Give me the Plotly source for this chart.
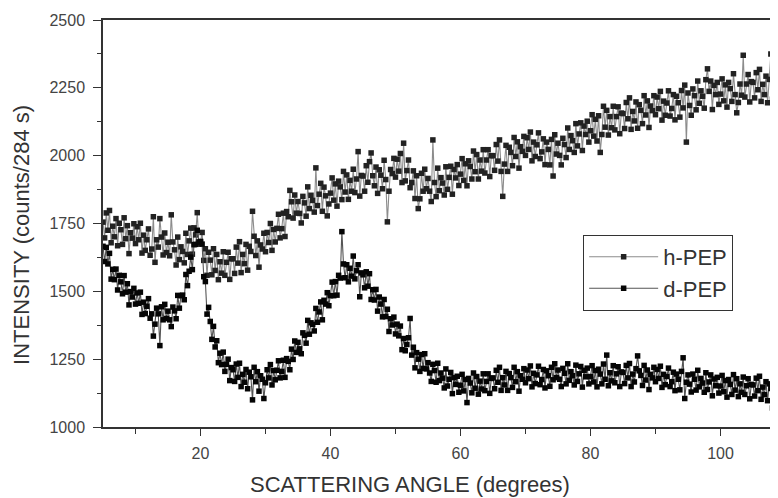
import plotly.graph_objects as go

# Scattering angle grid (degrees): 0.25-degree steps from 5 to 109 (417 points)
angle = [5 + 0.25 * i for i in range(417)]

h_pep = [
    # 5 - 9.75
    1755, 1697, 1789, 1725, 1798, 1679, 1740, 1701, 1768, 1668,
    1751, 1727, 1673, 1771, 1694, 1742, 1639, 1716, 1696, 1749,
    # 10 - 14.75
    1676, 1738, 1690, 1751, 1641, 1707, 1651, 1690, 1730, 1633,
    1656, 1775, 1607, 1690, 1663, 1768, 1700, 1634, 1715, 1643,
    # 15 - 19.75
    1681, 1631, 1782, 1682, 1653, 1597, 1700, 1617, 1664, 1647,
    1605, 1714, 1636, 1686, 1733, 1637, 1734, 1708, 1790, 1674,
    # 20 - 24.75
    1682, 1717, 1614, 1657, 1559, 1644, 1615, 1561, 1657, 1577,
    1636, 1543, 1609, 1567, 1646, 1559, 1607, 1644, 1544, 1620,
    # 25 - 29.75
    1620, 1566, 1663, 1604, 1683, 1569, 1636, 1602, 1673, 1578,
    1666, 1647, 1795, 1703, 1632, 1686, 1589, 1671, 1656, 1714,
    # 30 - 34.75
    1646, 1717, 1680, 1750, 1651, 1728, 1682, 1732, 1784, 1697,
    1731, 1788, 1702, 1794, 1775, 1872, 1830, 1770, 1855, 1788,
    # 35 - 39.75
    1831, 1787, 1752, 1850, 1826, 1777, 1885, 1805, 1854, 1835,
    1792, 1955, 1816, 1858, 1898, 1795, 1884, 1852, 1778, 1822,
    # 40 - 44.75
    1862, 1918, 1836, 1896, 1814, 1906, 1885, 1838, 1942, 1866,
    1929, 1839, 1909, 1869, 1950, 1864, 1914, 2015, 1851, 1927,
    # 45 - 49.75
    1925, 1869, 1963, 1902, 1978, 2010, 1926, 1889, 1958, 1861,
    1948, 1928, 1878, 1983, 1912, 1756, 1869, 1949, 1934, 1990,
    # 50 - 54.75
    1921, 1987, 1943, 2008, 1901, 2046, 1907, 1945, 1984, 1882,
    1901, 1944, 1842, 1926, 1805, 1841, 1935, 1869, 1950, 1878,
    # 55 - 59.75
    1916, 1869, 1831, 2058, 1901, 1849, 1954, 1871, 1919, 1899,
    1855, 1959, 1876, 1920, 1961, 1858, 1949, 1918, 1967, 1890,
    # 60 - 64.75
    1932, 1989, 1909, 1970, 1889, 1981, 1960, 1914, 2017, 1941,
    2004, 1914, 1984, 1943, 2022, 1936, 1984, 2022, 1923, 2000,
    # 65 - 69.75
    2000, 1946, 2041, 1980, 2058, 1942, 1850, 1969, 2038, 1942,
    2031, 2012, 1963, 2067, 1997, 2051, 1954, 2033, 2016, 2071,
    # 70 - 74.75
    2001, 2066, 2023, 2087, 1981, 2050, 1997, 2040, 2084, 1989,
    2014, 2062, 1967, 2050, 2023, 1966, 2060, 1925, 2077, 2006,
    # 75 - 79.75
    2046, 2001, 1966, 2064, 2041, 1993, 2102, 2023, 2074, 2055,
    2012, 2118, 2036, 2080, 2121, 2019, 2109, 2078, 2127, 2050,
    # 80 - 84.75
    2092, 2151, 2072, 2134, 2054, 2147, 2012, 2078, 2182, 2105,
    2167, 2076, 2144, 2103, 2182, 2095, 2144, 2180, 2081, 2157,
    # 85 - 89.75
    2155, 2100, 2196, 2136, 2213, 2097, 2163, 2128, 2198, 2101,
    2188, 2167, 2118, 2221, 2150, 2202, 2104, 2183, 2166, 2221,
    # 90 - 94.75
    2151, 2216, 2173, 2237, 2131, 2201, 2149, 2194, 2239, 2146,
    2174, 2225, 2132, 2219, 2195, 2142, 2240, 2176, 2260, 2050,
    # 95 - 99.75
    2231, 2185, 2149, 2246, 2221, 2169, 2275, 2193, 2239, 2219,
    2175, 2280, 2320, 2237, 2275, 2170, 2259, 2225, 2270, 2189,
    # 100 - 104.75
    2227, 2283, 2202, 2261, 2179, 2270, 2247, 2200, 2302, 2225,
    2158, 2196, 2264, 2223, 2370, 2216, 2264, 2299, 2198, 2273,
    # 105 - 109
    2270, 2213, 2306, 2243, 2318, 2200, 2263, 2225, 2293, 2195,
    2281, 2375, 2208, 2310, 2237, 2288, 2189,
]

d_pep = [
    # 5 - 9.75
    1666, 1610, 1662, 1601, 1640, 1545, 1581, 1543, 1582, 1505,
    1559, 1535, 1491, 1558, 1497, 1528, 1450, 1499, 1479, 1511,
    # 10 - 14.75
    1453, 1494, 1456, 1497, 1415, 1460, 1418, 1445, 1473, 1401,
    1417, 1335, 1379, 1438, 1417, 1300, 1443, 1395, 1452, 1400,
    # 15 - 19.75
    1427, 1395, 1370, 1442, 1428, 1399, 1485, 1438, 1484, 1486,
    1469, 1562, 1521, 1574, 1626, 1580, 1672, 1673, 1725, 1682,
    # 20 - 24.75
    1684, 1674, 1554, 1536, 1416, 1441, 1389, 1323, 1371, 1295,
    1318, 1237, 1272, 1230, 1276, 1205, 1231, 1250, 1171, 1219,
    # 25 - 29.75
    1211, 1168, 1232, 1183, 1235, 1149, 1194, 1165, 1212, 1141,
    1202, 1185, 1100, 1220, 1167, 1204, 1132, 1189, 1176, 1105,
    # 30 - 34.75
    1163, 1211, 1181, 1230, 1155, 1208, 1174, 1209, 1244, 1181,
    1205, 1246, 1183, 1252, 1242, 1211, 1287, 1249, 1317, 1275,
    # 35 - 39.75
    1312, 1288, 1270, 1347, 1338, 1309, 1393, 1342, 1384, 1378,
    1354, 1437, 1386, 1424, 1461, 1395, 1467, 1453, 1495, 1447,
    # 40 - 44.75
    1484, 1534, 1484, 1536, 1486, 1559, 1549, 1720, 1601, 1550,
    1598, 1535, 1585, 1556, 1630, 1546, 1576, 1598, 1480, 1568,
    # 45 - 49.75
    1561, 1513, 1572, 1519, 1565, 1470, 1506, 1468, 1507, 1427,
    1479, 1453, 1406, 1470, 1407, 1434, 1352, 1399, 1376, 1405,
    # 50 - 54.75
    1343, 1379, 1336, 1372, 1285, 1326, 1281, 1304, 1329, 1400,
    1265, 1294, 1218, 1274, 1250, 1205, 1267, 1216, 1270, 1214,
    # 55 - 59.75
    1237, 1199, 1168, 1231, 1208, 1165, 1235, 1171, 1199, 1180,
    1144, 1214, 1151, 1176, 1201, 1123, 1182, 1157, 1187, 1128,
    # 60 - 64.75
    1154, 1194, 1133, 1175, 1090, 1179, 1162, 1126, 1199, 1143,
    1186, 1121, 1169, 1140, 1196, 1134, 1168, 1196, 1124, 1179,
    # 65 - 69.75
    1181, 1141, 1209, 1165, 1220, 1135, 1182, 1155, 1205, 1135,
    1197, 1182, 1146, 1220, 1167, 1204, 1132, 1189, 1176, 1215,
    # 70 - 74.75
    1163, 1210, 1178, 1225, 1148, 1198, 1160, 1192, 1224, 1156,
    1175, 1212, 1144, 1207, 1189, 1150, 1220, 1174, 1233, 1182,
    # 75 - 79.75
    1210, 1176, 1149, 1216, 1198, 1159, 1233, 1172, 1204, 1189,
    1155, 1228, 1168, 1196, 1223, 1147, 1209, 1185, 1217, 1159,
    # 80 - 84.75
    1186, 1226, 1166, 1208, 1148, 1213, 1195, 1159, 1232, 1176,
    1265, 1152, 1200, 1170, 1226, 1163, 1196, 1222, 1149, 1203,
    # 85 - 89.75
    1201, 1160, 1227, 1181, 1234, 1149, 1195, 1166, 1215, 1262,
    1207, 1190, 1153, 1227, 1173, 1210, 1138, 1194, 1181, 1220,
    # 90 - 94.75
    1167, 1212, 1179, 1224, 1146, 1194, 1156, 1186, 1217, 1149,
    1167, 1202, 1134, 1195, 1176, 1137, 1205, 1255, 1105, 1165,
    # 95 - 99.75
    1192, 1158, 1129, 1195, 1176, 1136, 1209, 1148, 1179, 1162,
    1128, 1200, 1138, 1166, 1192, 1115, 1177, 1152, 1183, 1125,
    # 100 - 104.75
    1151, 1190, 1130, 1171, 1110, 1175, 1157, 1120, 1193, 1136,
    1178, 1112, 1159, 1128, 1184, 1120, 1152, 1178, 1104, 1157,
    # 105 - 109
    1155, 1114, 1180, 1134, 1187, 1102, 1147, 1119, 1167, 1097,
    1159, 1142, 1070, 1179, 1125, 1162, 1090,
]

y_ticks = [1000, 1250, 1500, 1750, 2000, 2250, 2500]
x_ticks = [20, 40, 60, 80, 100]

FONT = "Liberation Sans, Arial, Helvetica, sans-serif"

fig = go.Figure()
fig.add_trace(go.Scatter(
    x=angle, y=h_pep, name="h-PEP", mode="lines+markers",
    line=dict(color="#8c8c8c", width=1.1),
    marker=dict(color="#222222", size=5.5, symbol="square"),
))
fig.add_trace(go.Scatter(
    x=angle, y=d_pep, name="d-PEP", mode="lines+markers",
    line=dict(color="#555555", width=1.1),
    marker=dict(color="#050505", size=5.5, symbol="square"),
))

fig.update_layout(
    width=778, height=498,
    margin=dict(l=95, r=0, t=12, b=79),
    paper_bgcolor="white", plot_bgcolor="white",
    font=dict(family=FONT, color="#333333"),
    showlegend=True,
    legend=dict(
        x=0.703, y=0.472, xanchor="left", yanchor="top",
        bgcolor="white", bordercolor="#333333", borderwidth=1,
        font=dict(size=22, color="#333333"),
        itemwidth=69, tracegroupgap=0,
    ),
    xaxis=dict(
        range=[5, 110.08], tickvals=x_ticks, ticks="outside", ticklen=7,
        tickcolor="#333333", tickwidth=1.2,
        minor=dict(dtick=10, tick0=0, ticks="outside", ticklen=5, tickcolor="#333333"),
        showline=True, linecolor="#333333", linewidth=1.5, mirror=True,
        showgrid=False, zeroline=False,
        tickfont=dict(size=16, color="#444444"),
        ticklabelstandoff=4,
    ),
    yaxis=dict(
        range=[1000, 2500], tickvals=y_ticks, ticks="outside", ticklen=8,
        tickcolor="#333333", tickwidth=1.2,
        minor=dict(dtick=125, tick0=1000, ticks="outside", ticklen=4, tickcolor="#333333"),
        showline=True, linecolor="#333333", linewidth=1.5,
        showgrid=False, zeroline=False,
        tickfont=dict(size=16, color="#444444"),
        ticklabelstandoff=5,
    ),
    annotations=[
        dict(text="SCATTERING ANGLE (degrees)", x=0.4495, y=-0.1425,
             xref="paper", yref="paper", xanchor="center", yanchor="middle",
             showarrow=False, font=dict(size=22, color="#333333")),
        dict(text="INTENSITY (counts/284 s)", x=-0.1186, y=0.472,
             xref="paper", yref="paper", xanchor="center", yanchor="middle",
             textangle=-90, showarrow=False, font=dict(size=22, color="#333333")),
    ],
)

fig.write_html("out.html")
